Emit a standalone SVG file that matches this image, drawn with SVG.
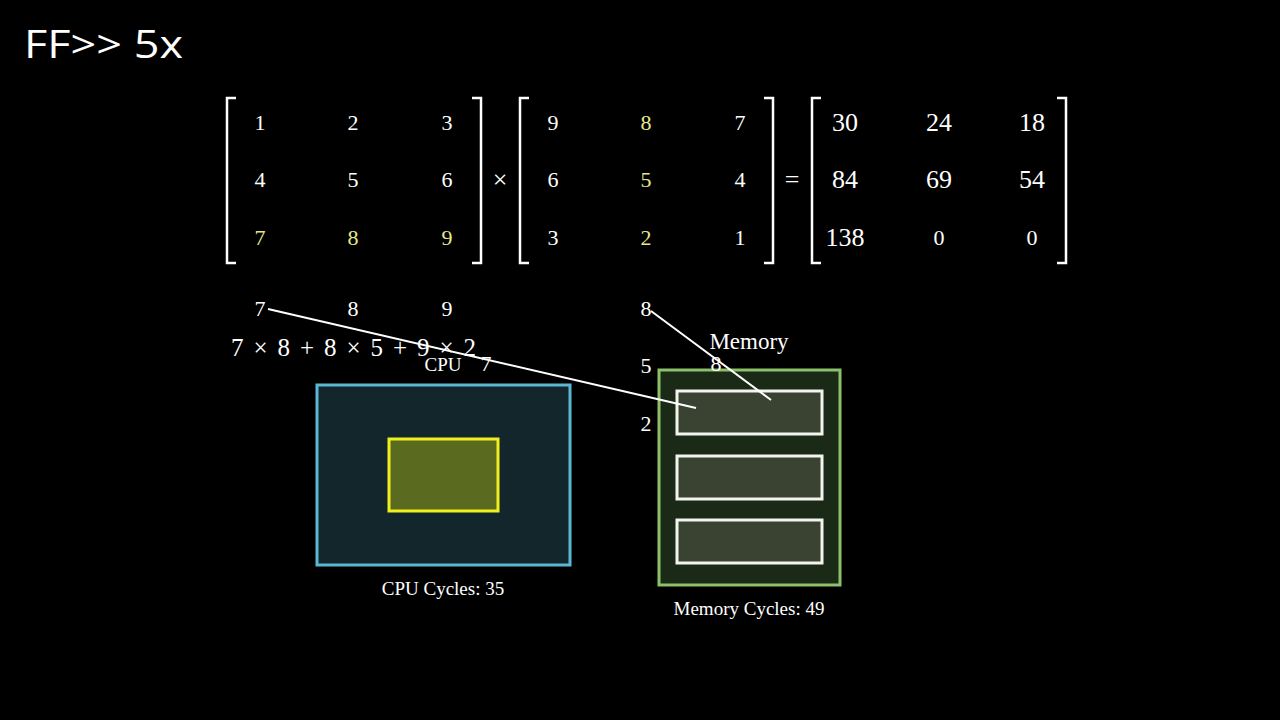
<svg xmlns="http://www.w3.org/2000/svg" width="1280" height="720" viewBox="0 0 1280 720">
<style>
.m{font-family:"Liberation Serif",serif;font-size:22px;fill:#fff;text-anchor:middle}
.b{font-family:"Liberation Serif",serif;font-size:26px;fill:#fff;text-anchor:middle}
.y{fill:#e6e88a}
.br{fill:none;stroke:#fff;stroke-width:2.5}
.l{font-family:"Liberation Serif",serif;font-size:19px;fill:#fff;text-anchor:middle}
</style>
<rect width="1280" height="720" fill="#000"/>
<text x="24" y="58" font-family="Open Sans,sans-serif" font-size="38" fill="#fff" textLength="159" lengthAdjust="spacingAndGlyphs">FF&gt;&gt; 5x</text>
<g id="matrices">
<path class="br" d="M236 98H227V263H236M472 98H481V263H472"/>
<path class="br" d="M529 98H520V263H529M764 98H773V263H764"/>
<path class="br" d="M821 98H812V263H821M1057 98H1066V263H1057"/>
<text class="m" x="260" y="130">1</text><text class="m" x="353" y="130">2</text><text class="m" x="447" y="130">3</text>
<text class="m" x="260" y="187">4</text><text class="m" x="353" y="187">5</text><text class="m" x="447" y="187">6</text>
<text class="m y" x="260" y="245">7</text><text class="m y" x="353" y="245">8</text><text class="m y" x="447" y="245">9</text>
<text class="b" x="500" y="188">×</text>
<text class="m" x="553" y="130">9</text><text class="m y" x="646" y="130">8</text><text class="m" x="740" y="130">7</text>
<text class="m" x="553" y="187">6</text><text class="m y" x="646" y="187">5</text><text class="m" x="740" y="187">4</text>
<text class="m" x="553" y="245">3</text><text class="m y" x="646" y="245">2</text><text class="m" x="740" y="245">1</text>
<text class="b" x="792" y="188">=</text>
<text class="b" x="845" y="131">30</text><text class="b" x="939" y="131">24</text><text class="b" x="1032" y="131">18</text>
<text class="b" x="845" y="188">84</text><text class="b" x="939" y="188">69</text><text class="b" x="1032" y="188">54</text>
<text class="b" x="845" y="246">138</text><text class="m" x="939" y="245">0</text><text class="m" x="1032" y="245">0</text>
</g>
<g id="row-copy">
<text class="m" x="260" y="316">7</text><text class="m" x="353" y="316">8</text><text class="m" x="447" y="316">9</text>
<text class="m" x="646" y="316">8</text><text class="m" x="646" y="373">5</text><text class="m" x="646" y="431">2</text>
<text x="231" y="356" font-family="Liberation Serif,serif" font-size="25" fill="#fff" textLength="245" lengthAdjust="spacing">7 × 8 + 8 × 5 + 9 × 2</text>
</g>
<g id="cpu">
<rect x="317" y="385" width="253" height="180" fill="#13262b" stroke="#5bb8d4" stroke-width="3"/>
<rect x="389" y="439" width="109" height="72" fill="#5a6a1e" stroke="#f0f020" stroke-width="3"/>
<text class="l" x="443" y="371" font-size="21">CPU</text>
<text class="m" x="486" y="371">7</text>
<text class="l" x="443" y="595">CPU Cycles: 35</text>
</g>
<g id="memory">
<rect x="659" y="370" width="181" height="215" fill="#1b2a17" stroke="#8cc06a" stroke-width="3"/>
<rect x="677" y="391" width="145" height="43" fill="#3a4232" stroke="#f2f4ee" stroke-width="3"/>
<rect x="677" y="456" width="145" height="43" fill="#3a4232" stroke="#f2f4ee" stroke-width="3"/>
<rect x="677" y="520" width="145" height="43" fill="#3a4232" stroke="#f2f4ee" stroke-width="3"/>
<text x="749" y="349" font-family="Liberation Serif,serif" font-size="23" fill="#fff" text-anchor="middle">Memory</text>
<text class="m" x="716" y="371">8</text>
<text class="l" x="749" y="615">Memory Cycles: 49</text>
</g>
<g id="connectors" stroke="#fff" stroke-width="2">
<line x1="268" y1="309" x2="696" y2="408"/>
<line x1="651" y1="311" x2="771" y2="400"/>
</g>
</svg>
